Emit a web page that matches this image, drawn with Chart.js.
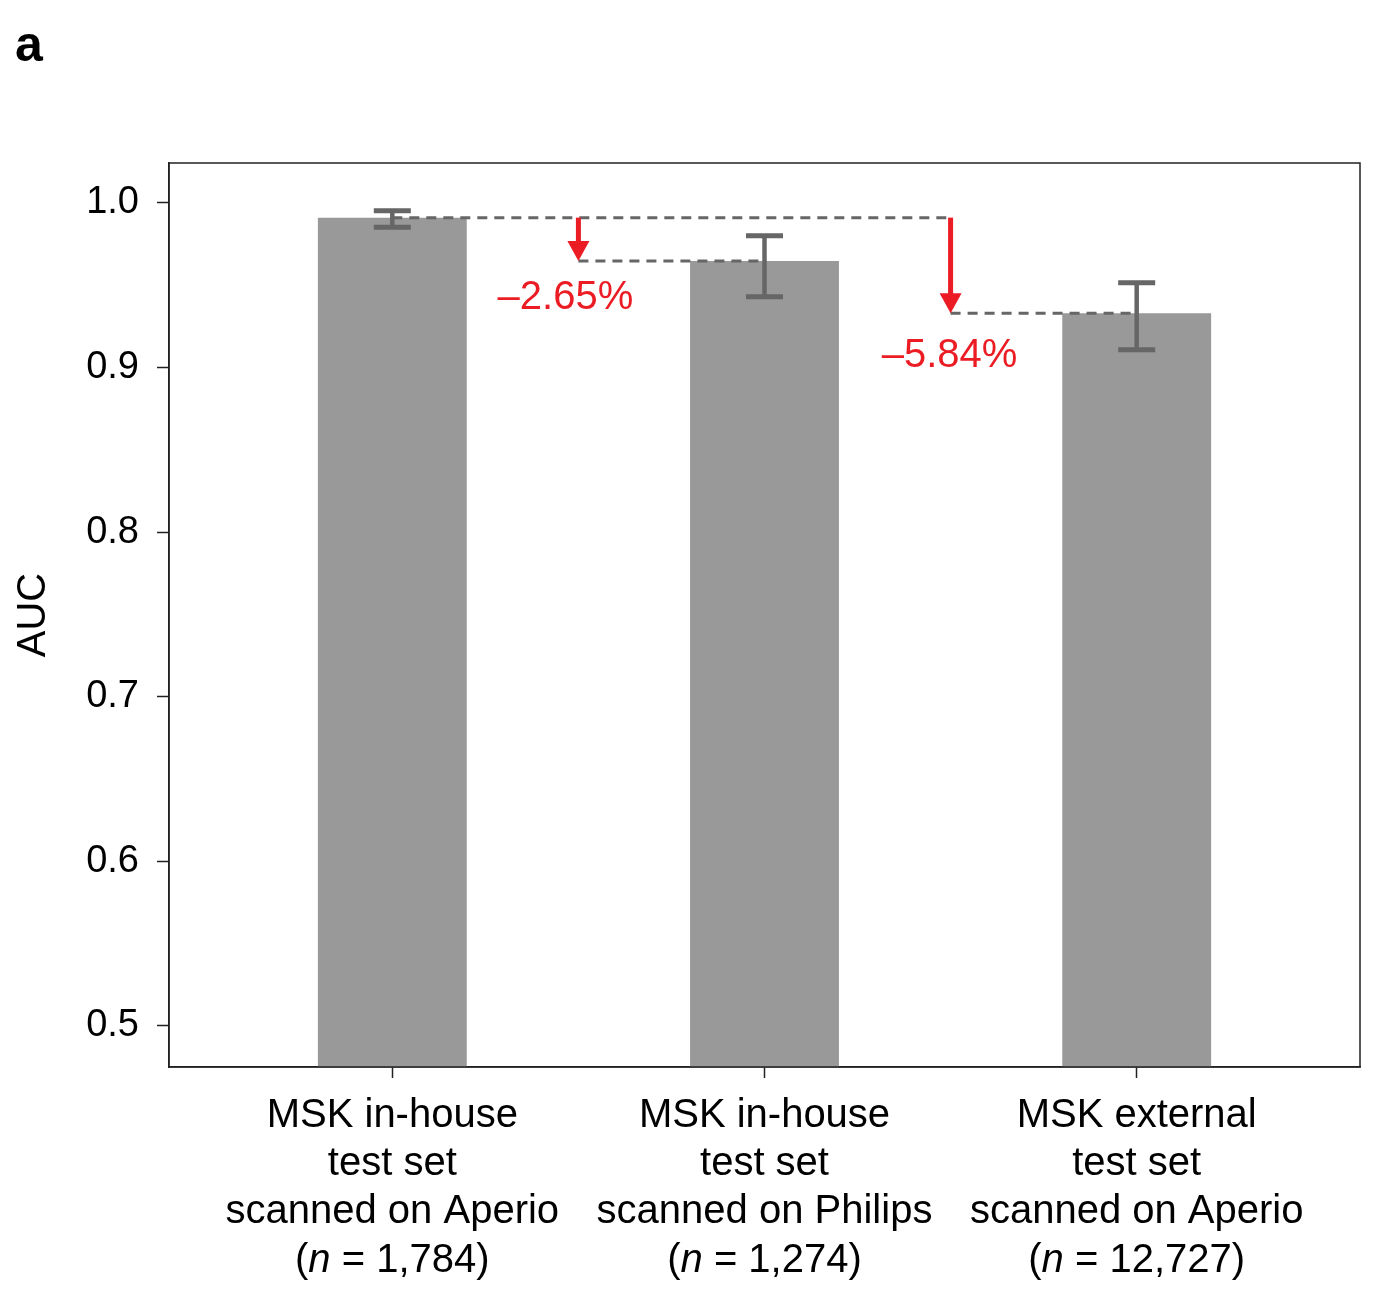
<!DOCTYPE html>
<html>
<head>
<meta charset="utf-8">
<script src="https://cdn.jsdelivr.net/npm/chart.js@4.4.1/dist/chart.umd.min.js"></script>
<style>
html, body { margin: 0; padding: 0; background: #fff; }
#wrap { width: 1384px; height: 1314px; }
</style>
</head>
<body>
<div id="wrap"><canvas id="aucChart" width="1384" height="1314"></canvas></div>
<script>
// category label lines (last line gets the italic n)
const categoryLine1 = ['MSK in-house', 'MSK in-house', 'MSK external'];
const categoryLine2 = ['test set', 'test set', 'test set'];
const categoryLine3 = ['scanned on Aperio', 'scanned on Philips', 'scanned on Aperio'];
const sampleSizes = ['1,784', '1,274', '12,727'];

// AUC with confidence interval
const aucValues = [0.9911, 0.9648, 0.9330];
const aucLower = [0.9852, 0.9431, 0.9108];
const aucUpper = [0.9953, 0.9801, 0.9515];

const yTickValues = [0.5, 0.6, 0.7, 0.8, 0.9, 1.0];
const dropLabels = ['\u20132.65%', '\u20135.84%'];

const FONT = '"Liberation Sans", Arial, Helvetica, sans-serif';
const RED = '#ec1c24';
const DARK_GREY = '#666666';

Chart.defaults.font.family = FONT;
Chart.defaults.color = '#000';

const annotationPlugin = {
    id: 'annotations',
    afterDatasetsDraw(chart) {
        const ctx = chart.ctx;
        const xs = chart.scales.x;
        const ys = chart.scales.y;
        const topY = ys.getPixelForValue(aucValues[0]);
        const lastArrowX = xs.getPixelForValue(dropLabels.length - 0.5);

        ctx.save();

        // dashed reference lines
        ctx.strokeStyle = DARK_GREY;
        ctx.lineWidth = 3;
        ctx.setLineDash([10, 7]);
        ctx.beginPath();
        ctx.moveTo(xs.getPixelForValue(0), topY);
        ctx.lineTo(lastArrowX, topY);
        dropLabels.forEach((_, k) => {
            const ty = ys.getPixelForValue(aucValues[k + 1]);
            ctx.moveTo(xs.getPixelForValue(k + 0.5), ty);
            ctx.lineTo(xs.getPixelForValue(k + 1), ty);
        });
        ctx.stroke();
        ctx.setLineDash([]);

        // error bars
        ctx.strokeStyle = DARK_GREY;
        aucValues.forEach((_, i) => {
            const cx = xs.getPixelForValue(i);
            const lo = ys.getPixelForValue(aucLower[i]);
            const hi = ys.getPixelForValue(aucUpper[i]);
            ctx.lineWidth = 4.5;
            ctx.beginPath();
            ctx.moveTo(cx, lo);
            ctx.lineTo(cx, hi);
            ctx.stroke();
            ctx.lineWidth = 5;
            ctx.beginPath();
            ctx.moveTo(cx - 18.5, lo);
            ctx.lineTo(cx + 18.5, lo);
            ctx.moveTo(cx - 18.5, hi);
            ctx.lineTo(cx + 18.5, hi);
            ctx.stroke();
        });

        // red arrows + percentage drops
        const textDx = [-13, -1];
        const textDy = [48, 54];
        dropLabels.forEach((label, k) => {
            const ax = xs.getPixelForValue(k + 0.5);
            const tip = ys.getPixelForValue(aucValues[k + 1]);
            ctx.strokeStyle = RED;
            ctx.fillStyle = RED;
            ctx.lineWidth = 5;
            ctx.beginPath();
            ctx.moveTo(ax, topY);
            ctx.lineTo(ax, tip - 18);
            ctx.stroke();
            ctx.beginPath();
            ctx.moveTo(ax - 11, tip - 20);
            ctx.lineTo(ax + 11, tip - 20);
            ctx.lineTo(ax, tip);
            ctx.closePath();
            ctx.fill();

            ctx.font = '40px ' + FONT;
            ctx.textAlign = 'center';
            ctx.textBaseline = 'alphabetic';
            ctx.fillText(label, ax + textDx[k], tip + textDy[k]);
        });

        ctx.restore();
    },
    afterDraw(chart) {
        const ctx = chart.ctx;
        const area = chart.chartArea;
        const xs = chart.scales.x;

        ctx.save();
        // plot frame
        ctx.strokeStyle = '#222';
        ctx.lineWidth = 1.5;
        ctx.strokeRect(area.left, area.top, area.right - area.left, area.bottom - area.top);

        // category labels
        ctx.fillStyle = '#000';
        ctx.textBaseline = 'alphabetic';
        const normal = '40px ' + FONT;
        const italic = 'italic 40px ' + FONT;
        const base = area.bottom;
        aucValues.forEach((_, i) => {
            const cx = xs.getPixelForValue(i);
            ctx.font = normal;
            ctx.textAlign = 'center';
            ctx.fillText(categoryLine1[i], cx, base + 60);
            ctx.fillText(categoryLine2[i], cx, base + 108);
            ctx.fillText(categoryLine3[i], cx, base + 156);

            const parts = [['(', normal], ['n', italic], [' = ' + sampleSizes[i] + ')', normal]];
            let total = 0;
            parts.forEach(p => { ctx.font = p[1]; total += ctx.measureText(p[0]).width; });
            let px = cx - total / 2;
            ctx.textAlign = 'left';
            parts.forEach(p => {
                ctx.font = p[1];
                ctx.fillText(p[0], px, base + 205);
                px += ctx.measureText(p[0]).width;
            });
        });

        // y axis title
        ctx.save();
        ctx.translate(34, 615);
        ctx.rotate(-Math.PI / 2);
        ctx.font = '40px ' + FONT;
        ctx.textAlign = 'center';
        ctx.textBaseline = 'middle';
        ctx.fillText('AUC', 0, 0);
        ctx.restore();

        // panel letter
        ctx.font = 'bold 50px ' + FONT;
        ctx.textAlign = 'left';
        ctx.textBaseline = 'alphabetic';
        ctx.fillText('a', 15, 61);

        ctx.restore();
    }
};

const ctx = document.getElementById('aucChart').getContext('2d');
const chart = new Chart(ctx, {
    type: 'bar',
    data: {
        datasets: [{
            data: aucValues.map((v, i) => ({ x: i, y: v })),
            backgroundColor: '#999999',
            borderWidth: 0,
            barPercentage: 0.4,
            categoryPercentage: 1
        }]
    },
    options: {
        responsive: false,
        animation: false,
        devicePixelRatio: 1,
        layout: {
            padding: { top: 163, right: 24, left: 0, bottom: 0 }
        },
        plugins: {
            legend: { display: false },
            tooltip: { enabled: false }
        },
        scales: {
            x: {
                type: 'linear',
                min: -0.6,
                max: 2.6,
                offset: false,
                afterBuildTicks: scale => {
                    scale.ticks = aucValues.map((_, i) => ({ value: i }));
                },
                afterFit: scale => { scale.height = 247; },
                ticks: { display: false },
                grid: {
                    offset: false,
                    drawOnChartArea: false,
                    drawTicks: true,
                    tickLength: 11,
                    tickWidth: 1.5,
                    tickColor: '#222'
                },
                border: { display: true, color: '#222', width: 1.5 }
            },
            y: {
                min: 0.475,
                max: 1.0243,
                afterBuildTicks: scale => {
                    scale.ticks = yTickValues.map(v => ({ value: v }));
                },
                afterFit: scale => { scale.width = 169; },
                ticks: {
                    padding: 18,
                    color: '#000',
                    font: { size: 38 },
                    callback: v => v.toFixed(1)
                },
                grid: {
                    drawOnChartArea: false,
                    drawTicks: true,
                    tickLength: 12,
                    tickWidth: 1.5,
                    tickColor: '#222'
                },
                border: { display: true, color: '#222', width: 1.5 }
            }
        }
    },
    plugins: [annotationPlugin]
});
</script>
</body>
</html>
